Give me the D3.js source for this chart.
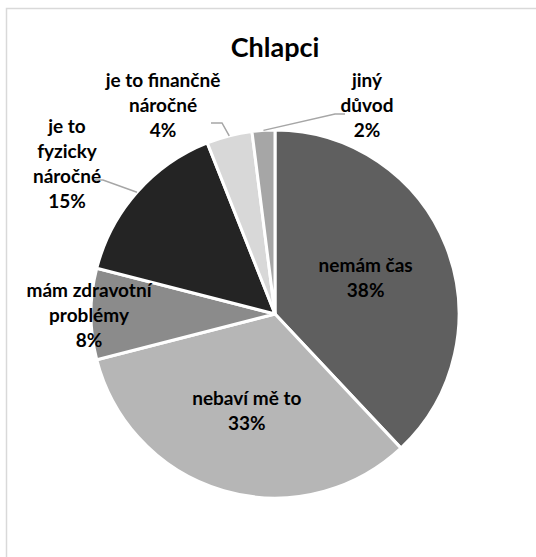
<!DOCTYPE html>
<html>
<head>
<meta charset="utf-8">
<script src="https://cdn.jsdelivr.net/npm/d3@7/dist/d3.min.js"></script>
<style>
  html, body { margin: 0; padding: 0; background: #fff; }
  svg { display: block; }
  text { font-family: Lato, "Open Sans", sans-serif; font-weight: bold; fill: #000; }
</style>
</head>
<body>
<script>
// Reasons (boys) and their shares in percent
const categories = ["nemám čas", "nebaví mě to", "mám zdravotní problémy", "je to fyzicky náročné", "je to finančně náročné", "jiný důvod"];
const values = [38, 33, 8, 15, 4, 2];
const labelLines = [
  ["nemám čas"],
  ["nebaví mě to"],
  ["mám zdravotní", "problémy"],
  ["je to", "fyzicky", "náročné"],
  ["je to finančně", "náročné"],
  ["jiný", "důvod"]
];
const colors = ["#5f5f5f", "#b6b6b6", "#8b8b8b", "#242424", "#d8d8d8", "#a6a6a6"];
const title = "Chlapci";

const W = 536, H = 557;
const cx = 275, cy = 314, R = 184;
const lineH = 25;

// Label placement: inside labels sit on the centroid at a radius fraction,
// outside labels are offset from the pie centre and joined by a leader line.
const layout = [
  { inside: 0.53 },
  { inside: 0.55 },
  { at: [-186, 1] },
  { at: [-208, -150], leader: [[-172, -134], [-180, -134]] },
  { at: [-112, -209], leader: [[-53, -191], [-64, -191]] },
  { at: [92, -209], leader: [[60, -200], [70, -200]] }
];

const svg = d3.select("body").append("svg").attr("width", W).attr("height", H);

// chart area frame
svg.append("rect")
  .attr("x", 6.5).attr("y", 8.5)
  .attr("width", W + 20).attr("height", H + 20)
  .attr("fill", "#fff")
  .attr("stroke", "#d9d9d9").attr("stroke-width", 1.5);

svg.append("text")
  .attr("x", cx).attr("y", 57)
  .attr("text-anchor", "middle")
  .style("font-size", "27px")
  .text(title);

const pie = d3.pie().sort(null).value(d => d).startAngle(0).endAngle(2 * Math.PI);
const arcs = pie(values);
const arc = d3.arc().innerRadius(0).outerRadius(R);

const g = svg.append("g").attr("transform", `translate(${cx},${cy})`);

g.selectAll("path.slice")
  .data(arcs)
  .join("path")
  .attr("class", "slice")
  .attr("d", arc)
  .attr("fill", (d, i) => colors[i])
  .attr("stroke", "#fff")
  .attr("stroke-width", 3)
  .attr("stroke-linejoin", "round");

// leader lines from the slice edge to the label
arcs.forEach((d, i) => {
  const L = layout[i];
  if (!L.leader) return;
  const mid = (d.startAngle + d.endAngle) / 2;
  const p0 = [Math.sin(mid) * R, -Math.cos(mid) * R];
  g.append("path")
    .attr("d", d3.line()([p0, ...L.leader]))
    .attr("fill", "none")
    .attr("stroke", "#a6a6a6")
    .attr("stroke-width", 1.5);
});

arcs.forEach((d, i) => {
  const L = layout[i];
  let x, y;
  if (L.inside) {
    const mid = (d.startAngle + d.endAngle) / 2;
    x = Math.sin(mid) * R * L.inside;
    y = -Math.cos(mid) * R * L.inside;
  } else {
    [x, y] = L.at;
  }
  const lines = labelLines[i].concat([values[i] + "%"]);
  const t = g.append("text")
    .attr("text-anchor", "middle")
    .style("font-size", "19px");
  const y0 = y - (lines.length - 1) * lineH / 2;
  lines.forEach((s, k) => {
    t.append("tspan")
      .attr("x", x)
      .attr("y", y0 + k * lineH)
      .attr("dy", "0.35em")
      .text(s);
  });
});
</script>
</body>
</html>
